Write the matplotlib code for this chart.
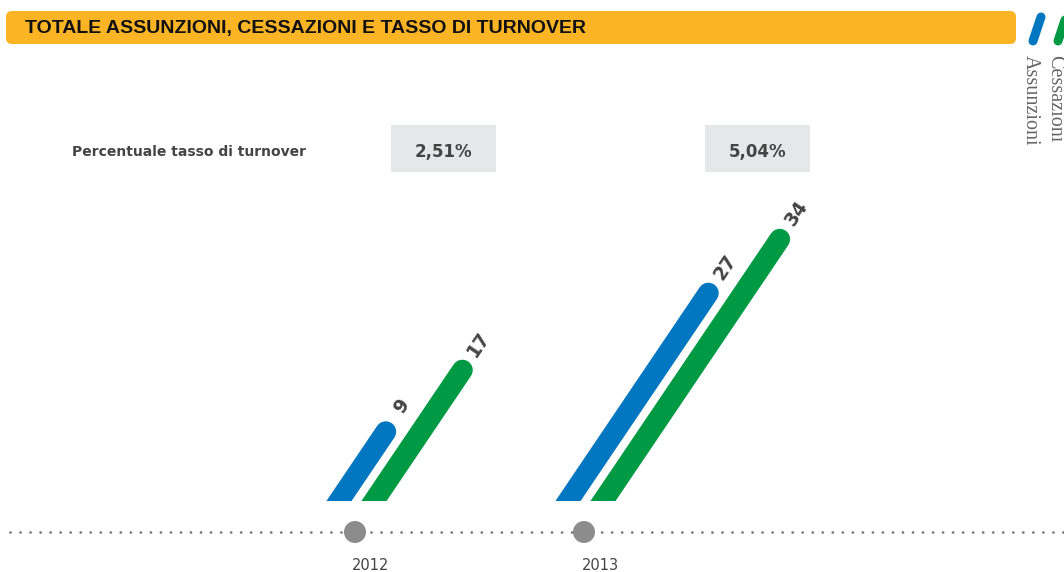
import numpy as np
import matplotlib
matplotlib.use('Agg')
import matplotlib.pyplot as plt
from matplotlib.patches import Rectangle, FancyBboxPatch, Circle

# ---- data ----
years = ['2012', '2013']
assunzioni = [9, 27]
cessazioni = [17, 34]
turnover = ['2,51%', '5,04%']

BLUE = '#0077C0'
GREEN = '#009A44'
ORANGE = '#FBB424'
DARK = '#444444'
FONT = ['DejaVu Sans']

W, H = 1064, 572
fig = plt.figure(figsize=(W / 100, H / 100), dpi=100)

# layout axes in pixel units (y down)
ax = fig.add_axes([0, 0, 1, 1])
ax.set_xlim(0, W)
ax.set_ylim(H, 0)
ax.axis('off')

# bar axes in value units, baseline at pixel row 501
px_unit = 7.7
base_px = 501
bx = fig.add_axes([0, 0, 1, 1])
bx.set_xlim(0, W)
bx.set_ylim(-(H - base_px) / px_unit, base_px / px_unit)
bx.axis('off')
bx.patch.set_alpha(0)

# header band
hdr = FancyBboxPatch((6, 11), 1010, 33, boxstyle='round,pad=0,rounding_size=6',
                     fc=ORANGE, ec='none')
ax.add_patch(hdr)
ax.text(25, 28, 'TOTALE ASSUNZIONI, CESSAZIONI E TASSO DI TURNOVER',
        fontsize=14, fontweight='bold', color='#111111', va='center',
        family=['Liberation Sans Narrow', 'Liberation Sans', 'DejaVu Sans'])

# legend icon
ax.plot([1033, 1041], [41, 17], color=BLUE, lw=6.5, solid_capstyle='round')
ax.plot([1058, 1066], [41, 17], color=GREEN, lw=6.5, solid_capstyle='round')
ax.text(1030, 55, 'Assunzioni', rotation=270, fontsize=14.5, color='#666666',
        va='top', ha='center', family=['Liberation Serif', 'DejaVu Serif'])
ax.text(1055, 55, 'Cessazioni', rotation=270, fontsize=14.5, color='#666666',
        va='top', ha='center', family=['Liberation Serif', 'DejaVu Serif'])

# turnover row
ax.text(72, 152, 'Percentuale tasso di turnover', fontsize=10, fontweight='bold',
        color=DARK, va='center', family=FONT)
box_x = [391, 705]
for bxl, t in zip(box_x, turnover):
    ax.add_patch(Rectangle((bxl, 125), 105, 47, fc='#E6E7E8', ec='none'))
    ax.text(bxl + 52.5, 152, t, fontsize=12, fontweight='bold', color=DARK,
            ha='center', va='center', family=FONT)

# timeline
year_x = [355, 584]
ax.plot([10, W], [532, 532], color='#777777', lw=2,
        linestyle=(0, (0.01, 3.6)), dash_capstyle='round')
for x, y in zip(year_x, years):
    ax.add_patch(Circle((x, 532), 11, fc='#8C8C8C', ec='none', zorder=3))
    ax.text(x + 16, 566, y, fontsize=10.5, color=DARK, ha='center', va='center',
            family=FONT)

# slanted bars
slope = 0.675 * px_unit   # x pixels per value unit
clip = Rectangle((0, 0), W, 200, transform=bx.transData)
offsets = [(-16, assunzioni, BLUE), (19, cessazioni, GREEN)]
for i, xc in enumerate(year_x):
    for off, vals, col in offsets:
        v = vals[i]
        x0 = xc + off
        y0 = -3
        line, = bx.plot([x0 + slope * y0, x0 + slope * v], [y0, v], color=col,
                        lw=15, solid_capstyle='round')
        line.set_clip_path(clip)
        bx.annotate(str(v), (x0 + slope * v, v), xytext=(12, 19),
                    textcoords='offset points', rotation=56, fontsize=13.5,
                    fontweight='bold', color=DARK, ha='center', va='center',
                    family=FONT)

fig.savefig('out.png', dpi=100)
